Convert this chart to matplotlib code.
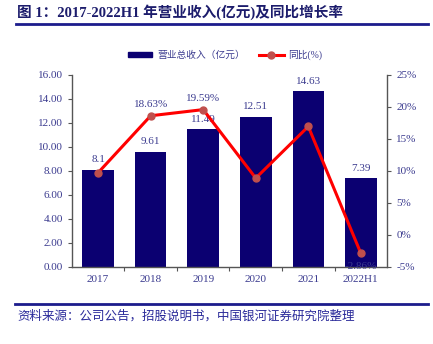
import matplotlib.pyplot as plt
from matplotlib.lines import Line2D
from matplotlib.patches import Patch

plt.rcParams['font.family'] = ['Liberation Serif', 'Noto Sans CJK SC', 'DejaVu Sans']

years = ['2017', '2018', '2019', '2020', '2021', '2022H1']
revenue = [8.1, 9.61, 11.49, 12.51, 14.63, 7.39]
growth = [9.73, 18.63, 19.59, 8.88, 16.95, -2.86]
growth_labels = ['', '18.63%', '19.59%', '', '', '-2.86%']

navy = '#0b0071'
txt = '#3b3b8f'

fig = plt.figure(figsize=(4.33, 3.44), dpi=100)
ax = fig.add_axes([0.166, 0.224, 0.728, 0.558])
ax2 = ax.twinx()

x = range(len(years))
bars = ax.bar(x, revenue, 0.6, color=navy, zorder=2)
for i, v in enumerate(revenue):
    ax.annotate(f'{v:g}' if v == 8.1 else f'{v:.2f}', (i, v), xytext=(0, 4),
                textcoords='offset points', ha='center', va='bottom',
                fontsize=8, color=txt)

ax.set_ylim(0, 16)
ax.set_yticks(range(0, 17, 2))
ax.set_yticklabels([f'{v:.2f}' for v in range(0, 17, 2)])
ax.set_xlim(-0.5, len(years) - 0.5)
ax.set_xticks([i + 0.5 for i in range(len(years) - 1)])
ax.set_xticklabels([])
ax.set_xticks(list(x), minor=True)
ax.set_xticklabels(years, minor=True)
ax.tick_params(axis='x', which='minor', length=0, pad=6, labelsize=8, labelcolor=txt)
ax.tick_params(axis='x', which='major', length=3, direction='out', color='#555555')
ax.tick_params(axis='y', length=3, labelsize=8, labelcolor=txt, color='#555555')

ax2.plot(x, growth, color='#ff0000', lw=2.2, zorder=3)
ax2.plot(x, growth, 'o', color='#c0504d', ms=5, zorder=4)
for i, (g, lab) in enumerate(zip(growth, growth_labels)):
    if lab:
        off = (0, 5) if g > 0 else (0, -6)
        ax2.annotate(lab, (i, g), xytext=off, textcoords='offset points',
                     ha='center', va='bottom' if g > 0 else 'top',
                     fontsize=8, color=txt)
ax2.set_ylim(-5, 25)
ax2.set_yticks(range(-5, 26, 5))
ax2.set_yticklabels([f'{v}%' for v in range(-5, 26, 5)])
ax2.tick_params(axis='y', length=3, labelsize=8, labelcolor=txt, color='#555555')

for a in (ax, ax2):
    for s in a.spines.values():
        s.set_visible(False)
ax.spines['left'].set_visible(True)
ax.spines['bottom'].set_visible(True)
ax2.spines['right'].set_visible(True)
for s in (ax.spines['left'], ax.spines['bottom'], ax2.spines['right']):
    s.set_color('#555555')
    s.set_linewidth(1)

handles = [Patch(color=navy),
           Line2D([], [], color='#ff0000', lw=2.2, marker='o', mfc='#c0504d', mec='#c0504d', ms=5)]
fig.legend(handles, ['营业总收入（亿元）', '同比(%)'], loc='center', bbox_to_anchor=(0.52, 0.84),
           ncol=2, frameon=False, fontsize=7, labelcolor=txt, handlelength=2.5,
           handleheight=0.5, columnspacing=1.5, handletextpad=0.5)

fig.text(0.04, 0.965, '图 1：2017-2022H1 年营业收入(亿元)及同比增长率', fontsize=10.5,
         fontweight='bold', color='#1c1c6c', va='center', ha='left')
fig.add_artist(Line2D([0.038, 0.988], [0.929, 0.929], color='#1c1c8c', lw=2))
fig.add_artist(Line2D([0.035, 0.988], [0.117, 0.117], color='#1c1c8c', lw=2))
fig.text(0.04, 0.08, '资料来源：公司公告，招股说明书，中国银河证券研究院整理', fontsize=9,
         style='italic', color='#2a2a9a', va='center', ha='left')

fig.savefig('out.png', dpi=100)
